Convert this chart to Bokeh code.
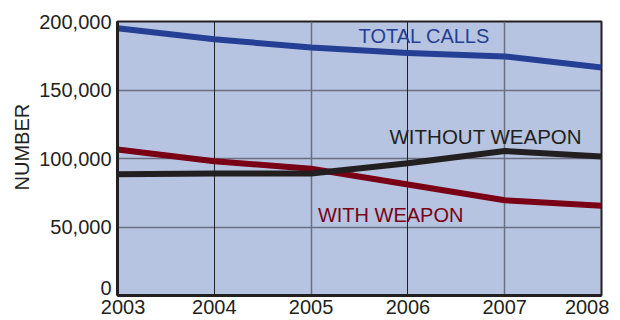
from bokeh.plotting import figure
from bokeh.models import Label, Grid, FixedTicker, Range1d, Title
from bokeh.embed import file_html
from bokeh.resources import INLINE

# ---- data ----
years = [2003, 2004, 2005, 2006, 2007, 2008]
total_calls = [195000, 187000, 181000, 177000, 174500, 166500]
without_weapon = [88500, 89000, 89000, 96500, 105500, 101500]
with_weapon = [106500, 98000, 92500, 81000, 69500, 65500]
y_ticks = [0, 50000, 100000, 150000, 200000]
y_tick_labels = ["0\n", "50,000", "100,000", "150,000", "200,000"]
x_tick_labels = ["\u20072003", "2004", "2005", "2006", "2007", "2008\u2007"]
series_names = ["TOTAL CALLS", "WITHOUT WEAPON", "WITH WEAPON"]
y_title = "NUMBER"

# ---- style ----
FONT = "Liberation Sans"
TXT = "#231f20"
BG = "#b6c4e1"
BLUE = "#253f95"
RED = "#7a0016"
BLACK = "#231f20"
GRID_GRAY = "#6b6e80"

p = figure(width=620, height=320, output_backend="svg", toolbar_location=None,
           x_range=Range1d(years[0], years[-1]), y_range=Range1d(y_ticks[0], y_ticks[-1]),
           min_border_left=117, min_border_right=19, min_border_top=21, min_border_bottom=23,
           background_fill_color=BG, border_fill_color="white")
p.outline_line_color = BLACK
p.outline_line_width = 2
p.grid.visible = False

for ax in (p.xaxis, p.yaxis):
    ax.axis_line_color = BLACK
    ax.axis_line_width = 3
    ax.major_tick_line_color = None
    ax.minor_tick_line_color = None
    ax.major_tick_out = 0
    ax.major_tick_in = 0
    ax.minor_tick_out = 0
    ax.minor_tick_in = 0
    ax.major_label_text_font = FONT
    ax.major_label_text_font_size = "20px"
    ax.major_label_text_color = TXT

p.xaxis.ticker = FixedTicker(ticks=years)
p.xaxis.major_label_overrides = {y: t for y, t in zip(years, x_tick_labels)}
p.xaxis.major_label_standoff = 0
p.yaxis.ticker = FixedTicker(ticks=y_ticks)
p.yaxis.major_label_overrides = {y: t for y, t in zip(y_ticks, y_tick_labels)}
p.yaxis.major_label_standoff = 6
p.yaxis.major_label_text_line_height = 0.65

p.add_layout(Title(text=y_title, align="left", offset=105, text_font=FONT,
                   text_font_size="20px", text_font_style="normal", text_color=TXT,
                   standoff=8), "left")

# grids
p.add_layout(Grid(dimension=1, ticker=FixedTicker(ticks=y_ticks[1:-1]),
                  grid_line_color=GRID_GRAY, grid_line_width=1.5))
p.add_layout(Grid(dimension=0, ticker=FixedTicker(ticks=[years[2], years[4]]),
                  grid_line_color=GRID_GRAY, grid_line_width=1.5))
p.add_layout(Grid(dimension=0, ticker=FixedTicker(ticks=[years[1], years[3]]),
                  grid_line_color=BLACK, grid_line_width=1))

# lines
p.line(years, with_weapon, line_width=6, line_color=RED, line_join="round")
p.line(years, without_weapon, line_width=6, line_color=BLACK, line_join="round")
p.line(years, total_calls, line_width=6, line_color=BLUE, line_join="round")

# series labels
p.add_layout(Label(x=2005.49, y=189500, text=series_names[0], text_font=FONT,
                   text_font_size="20px", text_color=BLUE, text_baseline="alphabetic"))
p.add_layout(Label(x=2005.81, y=116000, text=series_names[1], text_font=FONT,
                   text_font_size="20.5px", text_color=TXT, text_baseline="alphabetic"))
p.add_layout(Label(x=2005.07, y=58700, text=series_names[2], text_font=FONT,
                   text_font_size="20px", text_color=RED, text_baseline="alphabetic"))

open("out.html", "w").write(file_html(p, INLINE))
